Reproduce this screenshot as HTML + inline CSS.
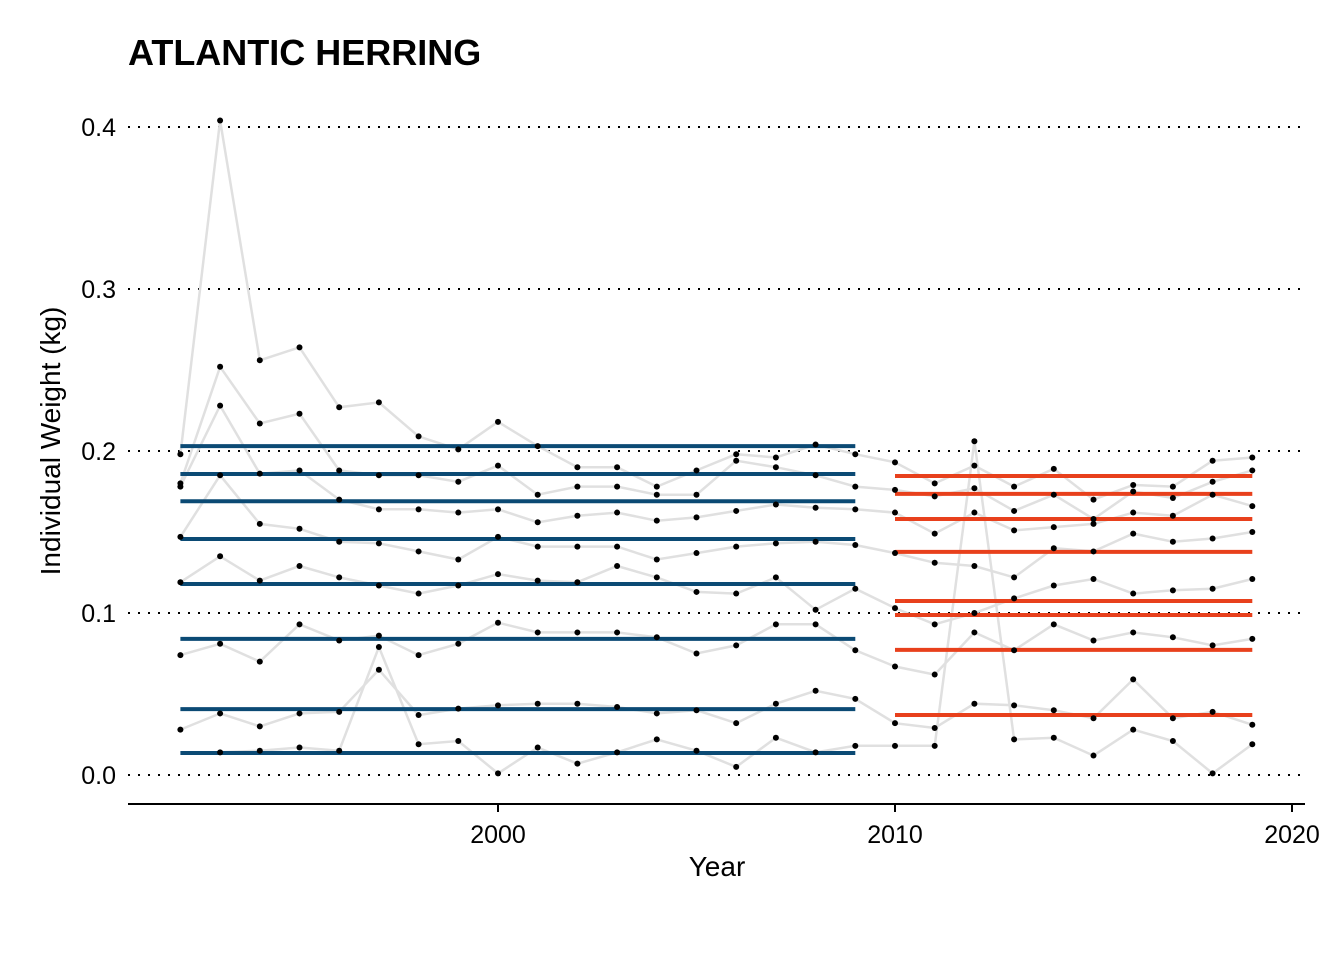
<!DOCTYPE html>
<html><head><meta charset="utf-8"><style>
body{margin:0;background:#fff;}
svg{display:block;font-family:"Liberation Sans",Arial,sans-serif;}
</style></head><body>
<svg id="chart" width="1344" height="960" viewBox="0 0 1344 960">
<text x="128" y="65" font-size="36" font-weight="bold">ATLANTIC HERRING</text>
<g id="grid"></g>
<g id="lines"></g>
<g id="means"></g>
<g id="points"></g>
<g id="axes"></g>
<text x="717" y="876" font-size="28" text-anchor="middle">Year</text>
<text transform="translate(60,441) rotate(-90)" font-size="28" text-anchor="middle">Individual Weight (kg)</text>
</svg>
<script>
const years = [1992,1993,1994,1995,1996,1997,1998,1999,2000,2001,2002,2003,2004,2005,2006,2007,2008,2009,2010,2011,2012,2013,2014,2015,2016,2017,2018,2019];
const s1 = [0.198,0.404,0.256,0.264,0.227,0.230,0.209,0.201,0.218,0.203,0.190,0.190,0.178,0.188,0.198,0.196,0.204,0.198,0.193,0.180,0.191,0.178,0.189,0.170,0.179,0.178,0.194,0.196];
const s2 = [0.180,0.252,0.217,0.223,0.188,0.185,0.185,0.181,0.191,0.173,0.178,0.178,0.173,0.173,0.194,0.190,0.185,0.178,0.176,0.172,0.177,0.163,0.173,0.158,0.175,0.171,0.181,0.188];
const s3 = [0.178,0.228,0.186,0.188,0.170,0.164,0.164,0.162,0.164,0.156,0.160,0.162,0.157,0.159,0.163,0.167,0.165,0.164,0.162,0.149,0.162,0.151,0.153,0.155,0.162,0.160,0.173,0.166];
const s4 = [0.147,0.185,0.155,0.152,0.144,0.143,0.138,0.133,0.147,0.141,0.141,0.141,0.133,0.137,0.141,0.143,0.144,0.142,0.137,0.131,0.129,0.122,0.140,0.138,0.149,0.144,0.146,0.150];
const s5 = [0.119,0.135,0.120,0.129,0.122,0.117,0.112,0.117,0.124,0.120,0.119,0.129,0.122,0.113,0.112,0.122,0.102,0.115,0.103,0.093,0.100,0.109,0.117,0.121,0.112,0.114,0.115,0.121];
const s6 = [0.074,0.081,0.070,0.093,0.083,0.086,0.074,0.081,0.094,0.088,0.088,0.088,0.085,0.075,0.080,0.093,0.093,0.077,0.067,0.062,0.088,0.077,0.093,0.083,0.088,0.085,0.080,0.084];
const s7 = [0.028,0.038,0.030,0.038,0.039,0.065,0.037,0.041,0.043,0.044,0.044,0.042,0.038,0.040,0.032,0.044,0.052,0.047,0.032,0.029,0.044,0.043,0.040,0.035,0.059,0.035,0.039,0.031];
const s8 = [null,0.014,0.015,0.017,0.015,0.079,0.019,0.021,0.001,0.017,0.007,0.014,0.022,0.015,0.005,0.023,0.014,0.018,0.018,0.018,0.206,0.022,0.023,0.012,0.028,0.021,0.001,0.019];
const series = [s1,s2,s3,s4,s5,s6,s7,s8];
const meanEarly = [0.203,0.1858,0.169,0.1457,0.1179,0.0840,0.0407,0.0136];
const meanLate = [0.1846,0.1735,0.158,0.1377,0.1074,0.0988,0.0772,0.037];
const earlyRange = [1992,2009];
const lateRange = [2010,2019];
const yTicks = [0,0.1,0.2,0.3,0.4];
const yTickLabels = ["0.0","0.1","0.2","0.3","0.4"];
const xTicks = [2000,2010,2020];

const X = v => 498 + (v-2000)*39.7;
const Y = v => 775 - v*1620;
const NS='http://www.w3.org/2000/svg';
function mk(tag, parent, attrs){const e=document.createElementNS(NS,tag);for(const k in attrs)e.setAttribute(k,attrs[k]);parent.appendChild(e);return e;}
const grid=document.getElementById('grid'),lines=document.getElementById('lines'),means=document.getElementById('means'),pts=document.getElementById('points'),axes=document.getElementById('axes');

yTicks.forEach((t,i)=>{
  const l=mk('line',grid,{x1:128,x2:1305,y1:Y(t),y2:Y(t),stroke:'#000','stroke-width':2,'stroke-dasharray':'2 8'});
  
  
  const tx=mk('text',axes,{x:116,y:Y(t)+9,'font-size':25,'text-anchor':'end'});
  tx.textContent=yTickLabels[i];
  
  
});
const ax=mk('line',axes,{x1:128,x2:1305,y1:804,y2:804,stroke:'#000','stroke-width':2});


xTicks.forEach(t=>{
  const tk=mk('line',axes,{x1:X(t),x2:X(t),y1:804,y2:812,stroke:'#000','stroke-width':2});
  
  
  const tx=mk('text',axes,{x:X(t),y:843,'font-size':25,'text-anchor':'middle'});
  tx.textContent=t;
  
  
});
series.forEach((s,si)=>{
  let d='';let pen=false;
  s.forEach((v,i)=>{ if(v==null){pen=false;return;} d+=(pen?'L':'M')+X(years[i]).toFixed(1)+' '+Y(v).toFixed(1)+' '; pen=true;});
  const p=mk('path',lines,{d:d,fill:'none',stroke:'#e0e0e0','stroke-width':2.5});
  
  
});
meanEarly.forEach(v=>{
  const l=mk('line',means,{x1:X(earlyRange[0]),x2:X(earlyRange[1]),y1:Y(v),y2:Y(v),stroke:'#0b4a74','stroke-width':4});
  
  
});
meanLate.forEach(v=>{
  const l=mk('line',means,{x1:X(lateRange[0]),x2:X(lateRange[1]),y1:Y(v),y2:Y(v),stroke:'#e8401c','stroke-width':4});
  
  
});
series.forEach(s=>{
  s.forEach((v,i)=>{ if(v==null)return;
    const c=mk('circle',pts,{cx:X(years[i]),cy:Y(v),r:3,fill:'#000'});
    
    
  });
});
</script>
</body></html>
